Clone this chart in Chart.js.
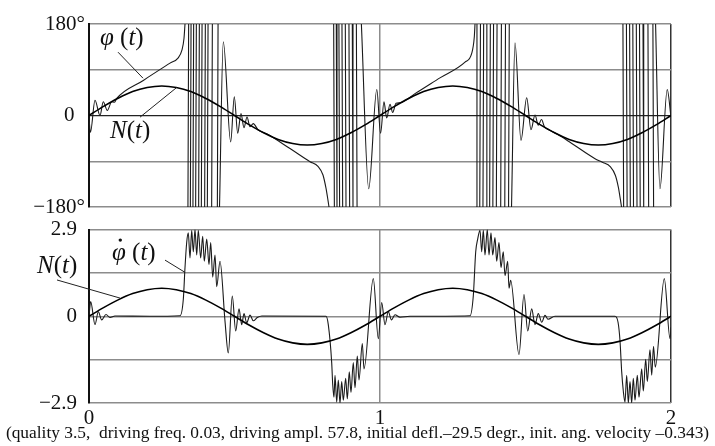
<!DOCTYPE html>
<html>
<head>
<meta charset="utf-8">
<script src="https://cdn.jsdelivr.net/npm/chart.js@4.4.0/dist/chart.umd.min.js"></script>
<style>
  html, body { margin: 0; padding: 0; background: #fff; }
  #wrap { position: relative; width: 715px; height: 446px; overflow: hidden; }
  #topChart { position: absolute; left: 0; top: 0; }
  #bottomChart { position: absolute; left: 0; top: 205px; }
  #caption {
    position: absolute; left: 0; top: 423px; width: 715px; text-align: center;
    font: 17.4px 'Liberation Serif', 'Times New Roman', serif; line-height: 19px;
    white-space: pre; color: #111;
  }
</style>
</head>
<body>
<div id="wrap">
  <canvas id="topChart" width="715" height="225"></canvas>
  <canvas id="bottomChart" width="715" height="241"></canvas>
  <div id="caption">(quality 3.5,  driving freq. 0.03, driving ampl. 57.8, initial defl.–29.5 degr., init. ang. velocity –0.343)</div>
</div>
<script>
// time axis, in periods of the driving torque
const timeTicks = [0, 1, 2];
const timeTickLabels = ['0', '1', '2'];

// upper panel: deflection angle (degrees)
const angleTicks = [-180, -90, 0, 90, 180];
const angleTickLabels = ['\u2212180°', '', '0\u2002', '', '180°'];

// lower panel: angular velocity
const velTicks = [-2.9, -1.45, 0, 1.45, 2.9];
const velTickLabels = ['\u22122.9', '', '0', '', '2.9'];

// driving torque N(t), read every 0.05
const nTime = [0, 0.05, 0.1, 0.15, 0.2, 0.25, 0.3, 0.35, 0.4, 0.45, 0.5, 0.55, 0.6, 0.65, 0.7, 0.75, 0.8, 0.85, 0.9, 0.95,
               1, 1.05, 1.1, 1.15, 1.2, 1.25, 1.3, 1.35, 1.4, 1.45, 1.5, 1.55, 1.6, 1.65, 1.7, 1.75, 1.8, 1.85, 1.9, 1.95, 2];
const nAngle = [0, 18, 34, 47, 55, 58, 55, 47, 34, 18, 0, -18, -34, -47, -55, -58, -55, -47, -34, -18,
                0, 18, 34, 47, 55, 58, 55, 47, 34, 18, 0, -18, -34, -47, -55, -58, -55, -47, -34, -18, 0];
const nVel = [0, 0.29, 0.55, 0.76, 0.89, 0.94, 0.89, 0.76, 0.55, 0.29, 0, -0.29, -0.55, -0.76, -0.89, -0.94, -0.89, -0.76, -0.55, -0.29,
              0, 0.29, 0.55, 0.76, 0.89, 0.94, 0.89, 0.76, 0.55, 0.29, 0, -0.29, -0.55, -0.76, -0.89, -0.94, -0.89, -0.76, -0.55, -0.29, 0];

// phi(t) outside the fast rotations (null = jump)
const phiTime = [0, 0.005, 0.0206, 0.0378, 0.0491, 0.0629, 0.078, 0.0876, 0.0952, 0.1866, 0.2784, 0.3058, 0.3196, 0.3265, 0.3299, 0.33,
                 0.4485, 0.4615, 0.4869, 0.4993, 0.511, 0.5223, 0.5326, 0.543, 0.5533, 0.5646, 0.5808, 0.6107, 0.6907, 0.7595, 0.7869, 0.8041, 0.8144, 0.8213, 0.8247, 0.825,
                 0.936, 0.9612, 0.989, 1.002, 1.0137, 1.023, 1.0344, 1.0436, 1.055, 1.0687, 1.1203, 1.206, 1.2921, 1.3151, 1.3241, 1.3265, 1.327,
                 1.452, 1.4639, 1.4845, 1.5041, 1.5189, 1.5326, 1.544, 1.555, 1.565, 1.58, 1.61, 1.659, 1.739, 1.764, 1.792, 1.809, 1.819, 1.826, 1.83, 1.831,
                 1.947, 1.962, 1.987, 2];
const phiAngle = [-5, -33, 30, 0, 27, 10, 27, 26, 33.5, 69, 103, 113, 129, 152, 180, null,
                  -180, 145, -52, 37, -35, 4, -24, -3, -22, -16, -28, -36, -65, -91, -100, -117, -143, -167, -180, null,
                  180, -144, 51, -35, 27, -5, 22, 6, 24, 25, 43, 74, 105, 122, 155, 180, null,
                  -180, 143, -49, 35, -28, 1, -19, -8, -22, -28, -37, -55, -85, -92, -101, -118, -141, -165, -180, null,
                  180, -144, 51, -3];

// instants where phi(t) runs through +-180 while the pendulum rotates
const wrapUp1 = [0.3412, 0.3495, 0.3584, 0.3677, 0.378, 0.3873, 0.3986, 0.4079, 0.4227, 0.4423];
const wrapDown1 = [0.842, 0.851, 0.86, 0.8705, 0.882, 0.8945, 0.906, 0.92];
const wrapUp2 = [1.332, 1.344, 1.355, 1.366, 1.378, 1.389, 1.401, 1.416, 1.43, 1.443];
const wrapDown2 = [1.836, 1.848, 1.859, 1.87, 1.882, 1.893, 1.905, 1.922, 1.939];

// angular velocity phi'(t)
const velTime = [0, 0.0058, 0.0206, 0.032, 0.0436, 0.0584, 0.0722, 0.0893, 0.2096, 0.3127,
                 0.3241, 0.3299, 0.3357, 0.3412, 0.3471, 0.3529, 0.3584, 0.3643, 0.3701, 0.3756, 0.3838, 0.3907, 0.3962, 0.4045,
                 0.4124, 0.4182, 0.4251, 0.433, 0.4388, 0.4502, 0.4674, 0.4787, 0.4924, 0.5041, 0.5155, 0.5247, 0.5326, 0.5419,
                 0.5533, 0.5646, 0.5784, 0.5945, 0.8144, 0.8223, 0.834, 0.8375, 0.8419, 0.8454, 0.8512, 0.8567, 0.8625, 0.8684,
                 0.8739, 0.8821, 0.8876, 0.8945, 0.9003, 0.9082, 0.9141, 0.922, 0.9278, 0.9392, 0.945, 0.977, 0.9942, 1.0058,
                 1.0172, 1.0285, 1.0395, 1.0515, 1.0687, 1.103, 1.3093, 1.3206, 1.3289, 1.3357, 1.3436, 1.3495, 1.355, 1.3608,
                 1.3687, 1.3746, 1.3814, 1.3873, 1.3952, 1.401, 1.4089, 1.4158, 1.4237, 1.4296, 1.4388, 1.4433, 1.449, 1.4777,
                 1.4948, 1.5076, 1.5213, 1.5326, 1.544, 1.5557, 1.567, 1.5773, 1.601, 1.8076, 1.818, 1.8247, 1.8306, 1.8361,
                 1.8419, 1.8477, 1.8533, 1.8591, 1.8649, 1.8704, 1.8763, 1.8842, 1.89, 1.8993, 1.9048, 1.9131, 1.9186, 1.9278,
                 1.9337, 1.9399, 1.946, 1.977, 1.9966, 2];
const velValue = [0, 0.49, -0.28, 0.15, -0.12, 0.06, -0.04, 0.01, 0, 0.02,
                  0.57, 1.63, 2.47, 2.79, 1.95, 2.88, 2.16, 2.9, 2.05, 2.88, 1.95, 2.68, 1.84, 2.58,
                  1.73, 2.47, 1.31, 2.05, 0.99, 1.84, -0.17, -1.23, 0.68, -0.49, 0.25, -0.28, 0.09, -0.22,
                  0.04, -0.15, -0.04, 0.01, 0, -0.28, -1.55, -2.28, -2.71, -1.97, -2.87, -2.13, -2.9, -2.18,
                  -2.81, -2.07, -2.76, -1.86, -2.55, -1.55, -2.39, -1.33, -2.13, -0.91, -1.76, 1.26, -0.75, 0.46,
                  -0.28, 0.15, -0.12, 0.05, -0.03, 0, 0.02, 0.68, 2.16, 2.58, 2.88, 2.16, 2.88, 2.05,
                  2.9, 2.05, 2.79, 2.05, 2.63, 1.84, 2.47, 1.63, 2.16, 1.36, 1.84, 0.94, 1.2, -1.28,
                  0.73, -0.49, 0.25, -0.28, 0.09, -0.2, 0.03, -0.1, 0, 0, -0.2, -0.81, -1.86, -2.5,
                  -2.87, -1.97, -2.9, -2.18, -2.9, -2.07, -2.81, -1.97, -2.71, -1.76, -2.5, -1.44, -2.18, -1.12,
                  -1.97, -1.0, -1.7, 1.26, -0.75, -0.37];

const FONT = "'Liberation Serif', 'Times New Roman', serif";
const GRID = '#8c8c8c';
Chart.defaults.font.family = FONT;

const toPoints = (xs, ys) => xs.map((x, i) => ({ x: x, y: ys[i] }));

// each rotation is drawn as one near-vertical stroke across the whole panel
function wrapLines(times, up) {
  const pts = [];
  times.forEach(t => {
    pts.push({ x: t - 0.0012, y: up ? -180 : 180 });
    pts.push({ x: t + 0.0012, y: up ? 180 : -180 });
    pts.push({ x: t, y: null });
  });
  return pts;
}

// curve names and their leader lines, placed in data units
const curveLabels = {
  id: 'curveLabels',
  afterDraw(chart, args, opts) {
    const ctx = chart.ctx;
    const xs = chart.scales.x, ys = chart.scales.y;
    ctx.save();
    ctx.strokeStyle = '#222';
    ctx.lineWidth = 1;
    (opts.pointers || []).forEach(p => {
      ctx.beginPath();
      ctx.moveTo(xs.getPixelForValue(p[0]), ys.getPixelForValue(p[1]));
      ctx.lineTo(xs.getPixelForValue(p[2]), ys.getPixelForValue(p[3]));
      ctx.stroke();
    });
    ctx.fillStyle = '#111';
    ctx.textBaseline = 'alphabetic';
    ctx.textAlign = 'left';
    (opts.labels || []).forEach(l => {
      let x = xs.getPixelForValue(l.t);
      const y = ys.getPixelForValue(l.v);
      l.parts.forEach(([s, it, dot]) => {
        ctx.font = (it ? 'italic ' : '') + '25px ' + FONT;
        ctx.fillText(s, x, y);
        const w = ctx.measureText(s).width;
        if (dot) {
          // time-derivative dot over the letter
          ctx.beginPath();
          ctx.arc(x + w * 0.6, y - 20, 1.7, 0, Math.PI * 2);
          ctx.fill();
        }
        x += w;
      });
    });
    ctx.restore();
  }
};

function xScale(showLabels) {
  return {
    type: 'linear', min: 0, max: 2,
    afterBuildTicks: s => { s.ticks = timeTicks.map(v => ({ value: v })); },
    ticks: { display: showLabels, autoSkip: false, maxRotation: 0, padding: 3, color: '#111', font: { size: 21 },
             callback: (v, i) => timeTickLabels[i] },
    grid: { color: c => (c.tick && c.tick.value === 2) ? '#333' : GRID, lineWidth: 1.5, drawTicks: false },
    border: { display: false },
    afterFit: s => { s.height = showLabels ? 43 : 0; }
  };
}

const topChart = new Chart(document.getElementById('topChart'), {
  type: 'line',
  data: {
    datasets: [
      { data: toPoints(nTime, nAngle), borderColor: '#000', borderWidth: 1.6, cubicInterpolationMode: 'monotone' },
      { data: toPoints(phiTime, phiAngle), borderColor: '#1a1a1a', borderWidth: 1.1, cubicInterpolationMode: 'monotone' },
      { data: [].concat(wrapLines(wrapUp1, true), wrapLines(wrapDown1, false), wrapLines(wrapUp2, true), wrapLines(wrapDown2, false)),
        borderColor: '#1a1a1a', borderWidth: 1.1 }
    ]
  },
  options: {
    responsive: false, animation: false, devicePixelRatio: 1,
    elements: { point: { radius: 0 } },
    layout: { autoPadding: false, padding: { left: 0, top: 24, right: 44, bottom: 18 } },
    plugins: {
      legend: { display: false }, tooltip: { enabled: false },
      curveLabels: {
        labels: [
          { t: 0.0378, v: 138, parts: [['φ', true], [' (', false], ['t', true], [')', false]] },
          { t: 0.0722, v: -45, parts: [['N', true], ['(', false], ['t', true], [')', false]] }
        ],
        pointers: [[0.0997, 124.6, 0.1856, 73.4], [0.1753, -3.3, 0.3014, 55.1]]
      }
    },
    scales: {
      x: xScale(false),
      y: {
        min: -180, max: 180,
        afterBuildTicks: s => { s.ticks = angleTicks.map(v => ({ value: v })); },
        ticks: { autoSkip: false, padding: 4, color: '#111', font: { size: 21 }, callback: (v, i) => angleTickLabels[i] },
        grid: { color: c => (c.tick && c.tick.value === 0) ? '#222' : GRID,
                lineWidth: c => (c.tick && c.tick.value === 0) ? 1.2 : 1.5, drawTicks: false },
        border: { color: '#111', width: 2 },
        afterFit: s => { s.width = 89; }
      }
    }
  },
  plugins: [curveLabels]
});

const bottomChart = new Chart(document.getElementById('bottomChart'), {
  type: 'line',
  data: {
    datasets: [
      { data: toPoints(nTime, nVel), borderColor: '#000', borderWidth: 1.6, cubicInterpolationMode: 'monotone' },
      { data: toPoints(velTime, velValue), borderColor: '#1a1a1a', borderWidth: 1.1, cubicInterpolationMode: 'monotone' }
    ]
  },
  options: {
    responsive: false, animation: false, devicePixelRatio: 1,
    elements: { point: { radius: 0 } },
    layout: { autoPadding: false, padding: { left: 0, top: 15, right: 44, bottom: 0 } },
    plugins: {
      legend: { display: false }, tooltip: { enabled: false },
      curveLabels: {
        labels: [
          { t: 0.079, v: 1.88, parts: [['φ', true, true], [' (', false], ['t', true], [')', false]] },
          { t: -0.1787, v: 1.44, parts: [['N', true], ['(', false], ['t', true], [')', false]] }
        ],
        pointers: [[0.2612, 1.88, 0.3299, 1.47], [-0.11, 1.215, 0.1065, 0.61]]
      }
    },
    scales: {
      x: xScale(true),
      y: {
        min: -2.9, max: 2.9,
        afterBuildTicks: s => { s.ticks = velTicks.map(v => ({ value: v })); },
        ticks: { autoSkip: false, padding: 12, color: '#111', font: { size: 21 }, callback: (v, i) => velTickLabels[i] },
        grid: { color: GRID, lineWidth: 1.5, drawTicks: false },
        border: { color: '#111', width: 2 },
        afterFit: s => { s.width = 89; }
      }
    }
  },
  plugins: [curveLabels]
});
</script>
</body>
</html>
